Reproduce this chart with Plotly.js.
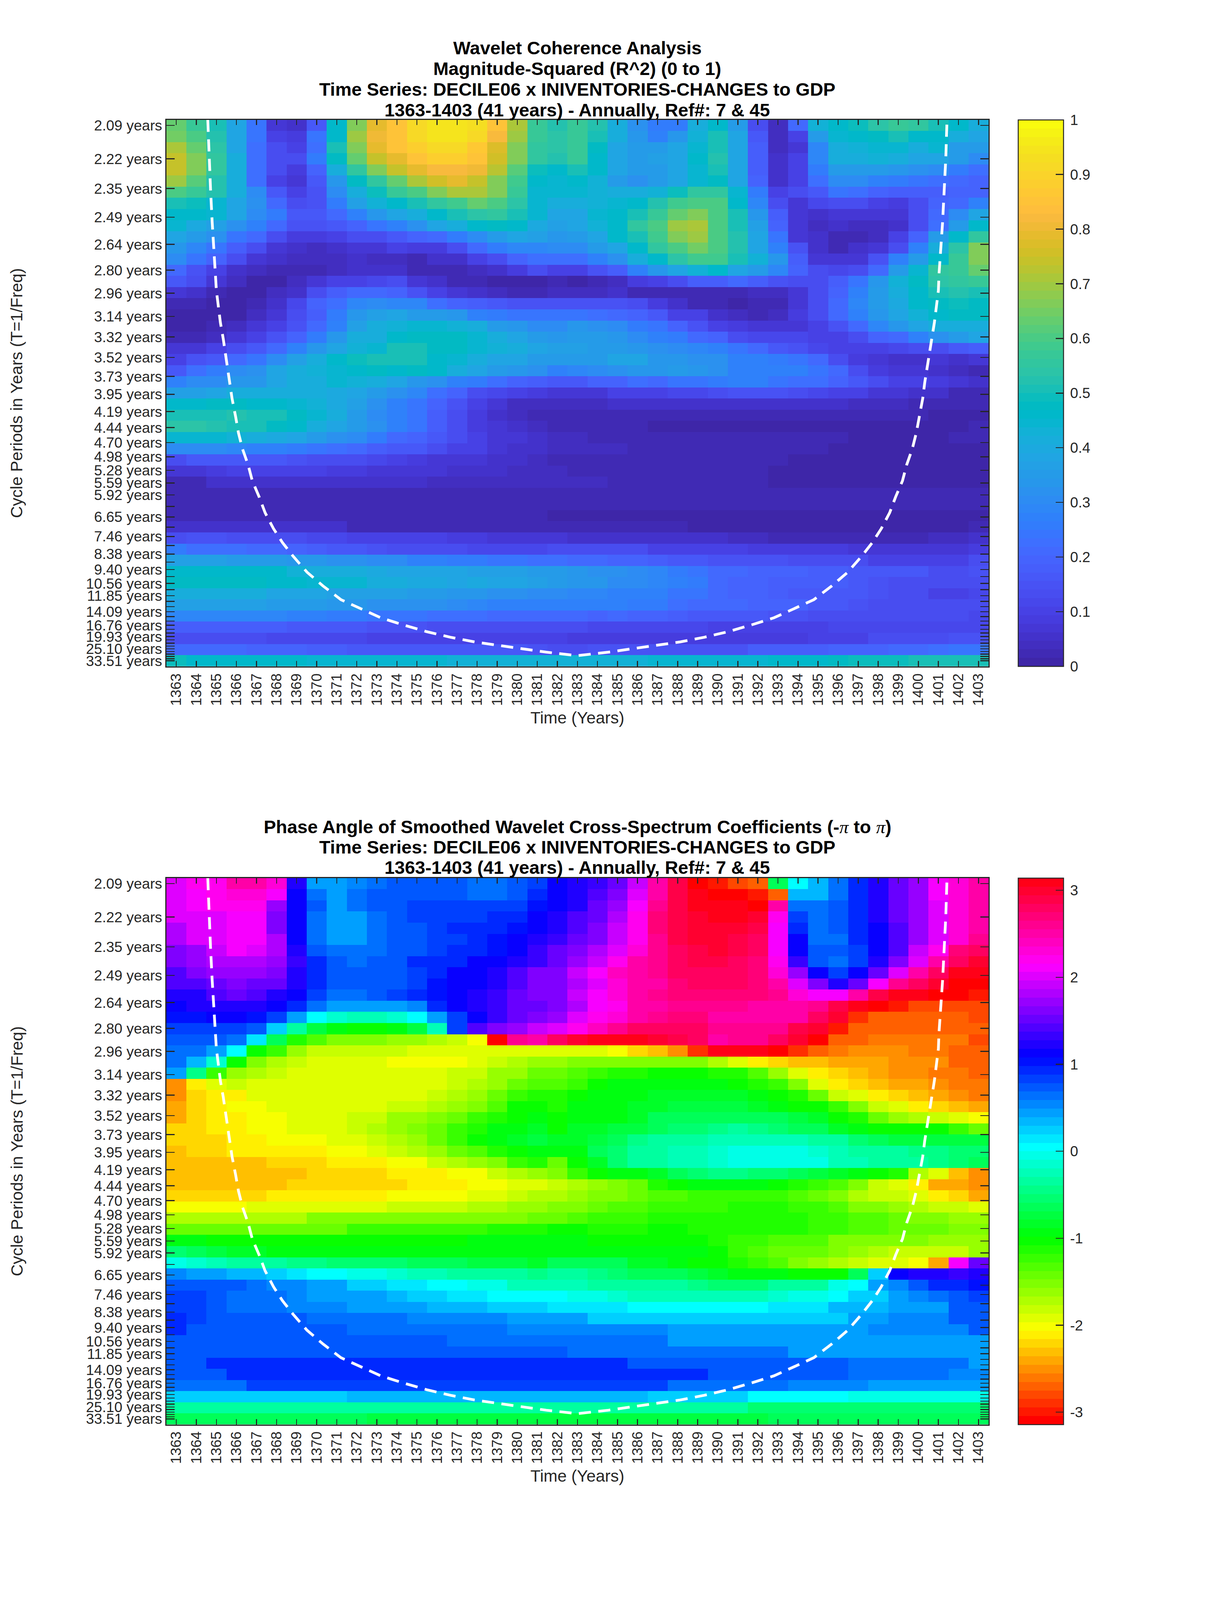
<!DOCTYPE html>
<html><head><meta charset="utf-8">
<script src="https://cdn.plot.ly/plotly-3.0.1.min.js"></script>
<style>html,body{margin:0;padding:0;background:#fff}</style></head>
<body><div id="chart"></div>
<script>
const years=[1363,1364,1365,1366,1367,1368,1369,1370,1371,1372,1373,1374,1375,1376,1377,1378,1379,1380,1381,1382,1383,1384,1385,1386,1387,1388,1389,1390,1391,1392,1393,1394,1395,1396,1397,1398,1399,1400,1401,1402,1403];
const periodTicks=[33.51,31.63,29.85,28.18,26.60,25.10,23.70,22.37,21.11,19.93,18.81,17.76,16.76,15.82,14.93,14.09,13.30,12.55,11.85,11.18,10.56,9.96,9.40,8.88,8.38,7.91,7.46,7.05,6.65,6.28,5.92,5.59,5.28,4.98,4.70,4.44,4.19,3.95,3.73,3.52,3.32,3.14,2.96,2.80,2.64,2.49,2.35,2.22,2.09];
const periodLabelled=[33.51,25.10,19.93,16.76,14.09,11.85,10.56,9.40,8.38,7.46,6.65,5.92,5.59,5.28,4.98,4.70,4.44,4.19,3.95,3.73,3.52,3.32,3.14,2.96,2.80,2.64,2.49,2.35,2.22,2.09];
const title1Lines=["Wavelet Coherence Analysis","Magnitude-Squared (R^2) (0 to 1)","Time Series: DECILE06 x INIVENTORIES-CHANGES to GDP","1363-1403 (41 years) - Annually, Ref#: 7 & 45"];
const title2Lines=["Phase Angle of Smoothed Wavelet Cross-Spectrum Coefficients (-<span style=\"font-family:'Liberation Serif';font-weight:normal\"><i>π</i></span> to <span style=\"font-family:'Liberation Serif';font-weight:normal\"><i>π</i></span>)","Time Series: DECILE06 x INIVENTORIES-CHANGES to GDP","1363-1403 (41 years) - Annually, Ref#: 7 & 45"];
// cone of influence
const coiYear=[1364.57,1364.63,1364.71,1364.79,1364.89,1364.97,1365.0,1365.10,1365.20,1365.34,1365.46,1365.60,1365.68,1365.78,1365.96,1366.10,1366.30,1366.58,1366.79,1367.13,1367.43,1367.85,1368.29,1368.82,1369.52,1370.31,1371.21,1372.20,1373.20,1374.29,1375.48,1376.67,1377.87,1379.06,1380.25,1381.45,1383,1384.55,1385.75,1386.94,1388.13,1389.33,1390.52,1391.71,1392.80,1393.80,1394.79,1395.69,1396.48,1397.18,1397.71,1398.15,1398.57,1398.87,1399.21,1399.42,1399.70,1399.90,1400.04,1400.22,1400.32,1400.40,1400.54,1400.66,1400.80,1400.90,1401.0,1401.03,1401.11,1401.21,1401.29,1401.37,1401.43];
const coiFreq=[.4831,.4510,.4242,.3974,.3706,.3534,.3400,.3266,.3132,.2998,.2864,.2710,.2630,.2497,.2343,.2209,.2075,.1941,.1807,.1673,.1539,.1405,.1290,.1176,.1041,.0927,.0811,.0735,.0659,.0601,.0543,.0496,.0457,.0428,.0400,.0371,.0342,.0371,.0400,.0428,.0457,.0496,.0543,.0601,.0659,.0735,.0811,.0927,.1041,.1176,.1290,.1405,.1539,.1673,.1807,.1941,.2075,.2209,.2343,.2497,.2630,.2710,.2864,.2998,.3132,.3266,.3400,.3534,.3706,.3974,.4242,.4510,.4831];
// R^2 x 100, top row (2.09 years) first
const coherencePct=[
[63,57,50,38,23,7,4,15,45,66,78,85,91,94,94,92,84,70,57,52,56,52,40,32,25,25,40,45,35,12,3,20,42,45,48,53,56,55,50,45,40],
[64,60,52,38,23,10,8,23,46,68,80,85,91,93,93,90,81,68,56,53,56,50,40,33,27,33,42,50,37,15,3,9,34,43,46,47,50,45,46,40,38],
[70,63,53,38,22,13,10,22,50,66,78,85,88,91,91,86,76,65,55,53,56,47,38,35,35,38,44,50,38,17,3,7,28,40,42,43,43,40,43,35,35],
[74,65,54,40,22,13,12,25,47,63,73,78,85,88,88,84,75,65,55,52,56,46,37,34,36,37,45,52,38,17,5,9,28,40,40,42,40,37,38,34,30],
[74,65,55,40,22,12,8,18,40,55,65,73,78,82,82,79,72,61,48,45,50,45,38,35,34,37,44,50,38,17,5,10,25,35,35,35,33,32,30,25,22],
[69,61,52,40,22,10,6,15,33,47,55,63,70,75,78,74,66,58,45,44,46,42,35,32,34,38,44,47,37,19,5,10,22,30,30,27,25,24,22,20,18],
[60,56,51,40,30,15,9,14,30,40,48,56,60,66,70,70,66,56,44,44,44,42,40,40,42,48,54,54,44,25,10,12,16,24,22,18,17,17,17,18,18],
[50,49,44,38,32,20,12,14,25,36,42,46,50,55,58,62,60,53,44,40,40,42,44,45,52,58,60,60,46,28,12,7,11,13,13,10,8,13,18,20,27],
[46,45,43,37,30,25,16,16,20,27,33,38,40,45,50,53,54,50,43,37,38,44,45,50,56,62,66,60,50,33,17,6,5,7,7,6,6,13,20,30,37],
[43,39,36,31,27,20,14,14,15,19,23,27,31,37,40,46,47,45,39,36,38,42,46,54,60,68,70,60,50,36,19,7,3,4,3,3,5,13,22,35,46],
[37,34,32,24,20,12,8,8,9,12,13,15,18,21,25,30,35,38,36,33,35,38,45,50,58,66,68,60,52,38,23,7,4,1,1,3,9,18,35,45,55],
[33,28,24,17,13,6,5,3,4,7,7,9,8,8,12,20,25,28,28,30,30,34,38,45,54,60,64,60,52,38,27,14,4,1,4,7,13,27,40,53,65],
[29,23,18,13,7,5,3,3,3,4,3,3,2,4,5,9,13,19,22,22,22,27,32,40,46,53,58,58,50,42,33,17,7,6,7,14,27,35,46,56,65],
[21,14,9,5,3,1,1,2,3,4,5,4,1,1,2,3,5,8,12,9,10,14,17,26,33,38,42,45,38,35,28,18,12,11,13,20,35,43,55,56,63],
[15,12,6,3,0,0,3,6,9,10,11,12,6,4,1,1,0,0,0,1,0,2,3,8,9,12,17,17,20,17,14,12,12,17,23,33,42,47,53,55,57],
[6,4,2,0,0,3,5,13,17,20,20,18,14,10,6,5,3,2,2,3,3,3,4,2,2,1,1,1,2,3,3,7,12,18,26,34,40,46,50,52,50],
[2,1,0,0,2,4,11,18,22,28,30,28,28,22,18,17,15,14,14,14,14,14,14,12,8,5,2,1,0,1,2,7,13,20,28,34,39,45,47,49,47],
[0,0,0,0,3,6,12,17,25,33,36,38,35,34,33,27,25,24,24,23,24,22,20,19,15,10,9,5,3,2,3,8,13,20,26,33,37,42,45,47,47],
[0,0,1,3,6,10,14,21,27,36,40,42,43,43,42,40,35,33,30,30,33,32,30,25,23,18,14,10,8,6,6,6,10,14,20,28,33,37,40,40,41],
[1,2,3,7,10,14,18,25,33,40,41,46,47,47,47,43,40,38,35,33,35,35,33,30,26,25,20,18,13,11,11,11,9,10,13,18,20,26,32,35,37],
[6,7,10,12,16,21,26,33,38,42,44,50,50,47,47,44,42,40,37,36,36,35,35,33,31,30,28,27,24,20,16,14,11,9,9,10,11,12,13,16,17],
[10,14,15,21,24,30,36,41,45,48,50,50,50,45,43,41,38,37,35,34,35,35,37,37,33,33,32,32,27,26,25,24,20,13,8,6,4,4,6,5,6],
[16,22,25,30,32,38,40,42,44,46,47,46,47,46,40,37,35,33,32,26,28,30,32,33,33,34,33,31,27,27,27,26,24,20,13,8,7,7,5,3,1],
[27,30,30,33,33,37,40,40,43,42,41,37,33,31,27,25,22,18,17,16,16,18,18,22,21,23,24,25,26,26,24,22,22,18,16,13,10,9,8,7,4],
[36,36,37,40,40,41,41,41,39,38,34,32,28,22,19,13,11,9,8,7,7,7,9,9,9,11,11,13,14,14,14,12,11,10,9,7,6,5,5,2,2],
[46,46,47,47,46,45,44,42,39,36,32,27,23,18,14,10,7,3,3,3,3,3,4,4,4,5,5,5,5,5,5,5,5,5,3,3,3,1,1,1,1],
[50,50,50,52,50,50,47,44,40,35,30,26,24,17,13,8,5,3,2,1,1,1,2,1,1,1,1,1,1,1,1,1,1,1,1,1,1,1,0,0,0],
[53,53,52,50,50,47,46,41,38,34,31,27,23,17,12,8,6,5,3,2,2,2,2,2,0,0,0,0,0,0,0,0,0,0,0,0,0,0,0,0,2],
[44,44,43,42,40,39,37,34,31,30,25,21,18,15,13,10,7,7,5,3,3,2,2,2,2,2,1,1,1,1,1,1,1,1,0,0,0,0,0,1,1],
[30,30,29,28,27,26,25,24,22,21,17,16,15,12,10,9,7,5,5,3,3,3,3,2,2,2,2,2,2,1,1,1,1,0,0,0,0,0,0,0,0],
[12,16,15,16,15,15,14,13,13,12,11,9,8,7,6,6,5,5,3,2,2,2,2,2,2,2,2,2,2,1,1,0,0,0,0,0,0,0,0,0,0],
[6,6,8,9,9,9,9,9,8,8,7,7,7,6,5,5,4,3,3,3,2,2,2,2,1,1,1,1,1,1,0,0,0,0,0,0,0,0,0,0,0],
[2,2,5,5,5,5,5,5,5,5,5,5,5,3,3,3,3,3,3,3,3,3,2,2,2,1,1,1,1,1,0,0,0,0,0,0,0,0,0,0,0],
[2,2,2,2,2,2,2,2,2,2,2,2,2,2,2,2,2,1,1,1,1,1,1,1,1,1,1,1,1,1,1,1,1,1,1,1,1,1,1,1,1],
[2,2,2,2,2,2,2,2,2,2,2,2,2,2,2,2,2,2,2,2,1,1,1,1,1,1,1,1,1,1,1,1,1,1,1,1,1,1,1,1,1],
[2,2,2,2,2,2,2,2,2,2,2,2,2,2,2,2,2,2,2,0,0,0,0,0,0,0,0,0,0,0,0,0,0,0,0,0,0,0,0,0,0],
[4,4,5,5,5,5,5,5,5,2,2,2,2,2,2,2,1,1,1,1,1,1,1,1,1,1,0,0,0,0,0,0,0,0,0,0,0,0,0,0,2],
[12,14,14,13,13,13,12,11,11,9,9,9,9,9,8,8,7,7,7,7,5,5,5,5,4,4,4,4,3,3,2,1,1,1,1,1,1,2,3,3,4],
[25,22,22,22,21,21,19,17,16,16,14,13,13,12,12,11,11,11,11,13,12,12,12,12,10,10,10,10,10,8,8,8,8,8,7,7,7,7,7,7,8],
[36,36,36,34,34,34,33,33,31,31,29,29,27,27,25,25,24,23,22,22,21,20,19,18,17,16,15,14,14,14,14,13,13,13,12,10,10,10,10,10,13],
[46,46,46,46,46,45,42,41,41,40,39,38,38,37,37,36,36,36,34,34,33,32,31,29,28,25,23,20,20,18,18,18,17,17,16,16,15,15,13,13,14],
[47,47,47,47,47,45,45,44,44,43,41,40,39,39,38,39,38,38,36,35,33,33,30,29,28,27,25,21,19,18,17,17,17,17,16,14,13,13,13,13,13],
[40,40,40,40,40,38,38,37,36,36,36,36,34,34,33,33,32,31,30,29,28,28,26,27,26,24,23,21,19,18,17,16,16,15,15,14,13,12,10,10,11],
[36,36,36,36,36,35,35,34,33,33,32,32,31,31,29,28,27,27,26,26,26,26,27,25,25,22,21,20,20,19,18,18,16,15,14,13,13,13,12,12,12],
[28,28,28,28,28,28,27,26,25,25,24,24,23,22,22,22,21,21,20,20,20,19,20,19,19,17,16,16,15,15,14,14,13,12,12,12,12,12,12,12,11],
[17,17,17,17,17,17,16,16,15,15,14,14,14,13,13,13,13,13,12,12,12,11,11,11,11,11,11,10,10,10,10,10,10,11,11,11,11,11,11,11,11],
[13,13,13,12,12,11,11,11,11,11,10,10,10,10,10,9,9,9,9,9,8,8,8,8,8,8,8,8,8,8,8,8,9,9,9,12,12,12,12,14,14],
[20,20,20,20,18,18,18,17,17,16,16,15,15,15,15,15,15,15,14,13,13,14,14,14,14,14,14,14,14,17,17,17,17,18,18,18,20,21,22,23,24],
[48,45,45,45,45,45,45,44,44,43,43,43,43,43,42,42,42,42,42,42,42,42,42,42,43,43,44,44,44,44,45,45,46,47,48,48,49,50,50,50,50]
];
// phase angle in degrees, top row (2.09 years) first
const phaseDeg=[
[115,122,125,140,142,130,65,25,25,30,33,38,40,40,42,36,36,42,46,60,70,75,85,105,140,165,180,-172,-165,-158,-40,0,17,35,48,70,85,98,120,130,138],
[110,120,125,130,132,118,60,32,25,32,38,42,42,42,42,35,35,42,48,60,68,78,92,112,140,165,177,-180,-180,-175,-155,15,18,35,48,68,82,97,118,128,138],
[110,118,122,125,125,98,60,40,25,35,40,40,43,43,43,43,43,46,55,63,70,85,98,120,145,165,172,177,177,178,140,32,32,37,50,65,83,97,115,128,138],
[115,115,115,120,120,90,60,32,25,25,32,38,43,43,43,43,48,52,60,68,77,87,100,123,150,165,170,172,172,170,122,45,34,42,52,65,82,97,112,128,138],
[103,110,112,118,118,90,60,32,25,25,32,38,42,46,50,50,52,58,60,70,78,92,107,125,150,165,168,170,167,163,120,50,34,40,52,62,80,97,115,130,142],
[103,110,112,120,120,102,60,32,25,25,32,38,42,46,46,50,56,60,68,74,82,92,108,125,148,162,167,168,165,160,120,60,35,35,48,60,80,96,113,130,145],
[92,98,105,118,110,102,68,40,36,36,36,38,42,46,52,52,58,60,75,82,88,100,113,130,145,160,165,170,165,160,120,60,40,40,46,60,78,105,125,150,160],
[88,93,102,100,102,95,75,48,40,33,40,42,48,50,52,60,60,66,75,82,95,108,122,140,145,155,165,165,160,150,125,72,42,35,46,65,92,115,140,160,170],
[80,90,97,98,98,92,70,52,42,38,38,42,45,50,60,60,68,77,88,92,105,120,135,142,145,155,160,160,160,150,132,95,60,45,60,85,112,138,160,172,177],
[78,78,85,92,85,85,65,52,42,38,38,42,45,55,60,60,65,80,90,90,102,115,128,138,142,150,155,160,160,152,138,115,88,70,85,120,145,160,170,178,178],
[65,70,78,82,78,70,60,45,35,32,40,45,52,58,60,70,75,82,90,92,105,120,132,140,148,150,152,152,152,152,148,132,120,120,142,162,172,175,178,180,-172],
[60,65,68,68,68,60,48,35,20,20,20,20,30,48,60,70,72,82,85,92,103,118,125,138,142,148,148,148,145,142,140,138,148,165,175,-178,-172,-165,-165,-165,-165],
[55,58,60,60,58,45,25,2,-12,-18,-15,-10,0,25,45,60,75,82,88,95,110,123,130,138,145,150,152,140,140,140,140,142,155,168,-170,-160,-160,-160,-160,-160,-165],
[45,45,45,45,38,10,-25,-45,-58,-60,-60,-58,-45,-18,45,78,92,98,105,110,125,135,148,155,155,155,155,148,145,145,145,162,170,-172,-160,-155,-155,-155,-155,-160,-160],
[38,38,38,32,5,-40,-65,-80,-88,-92,-92,-93,-98,-100,-108,-120,-180,145,138,155,168,172,177,177,170,165,155,142,145,148,155,170,180,-160,-155,-150,-150,-150,-152,-154,-162],
[35,35,25,0,-60,-72,-95,-105,-107,-107,-107,-108,-110,-110,-110,-110,-110,-110,-110,-110,-115,-114,-120,-128,-135,-144,-166,175,172,172,178,-168,-158,-150,-145,-144,-144,-150,-150,-156,-156],
[32,15,-10,-60,-90,-102,-108,-110,-110,-112,-115,-117,-118,-118,-118,-112,-105,-100,-98,-95,-88,-88,-88,-88,-88,-88,-92,-102,-112,-125,-132,-134,-135,-140,-140,-140,-144,-146,-148,-155,-155],
[20,-30,-75,-95,-102,-106,-114,-115,-115,-115,-115,-115,-115,-115,-108,-108,-98,-95,-82,-85,-80,-72,-70,-65,-62,-62,-62,-65,-70,-80,-98,-112,-122,-130,-135,-140,-144,-147,-150,-150,-158],
[-147,-122,-112,-108,-114,-114,-114,-114,-114,-115,-115,-115,-115,-114,-105,-102,-95,-85,-78,-80,-72,-62,-58,-58,-58,-55,-55,-58,-60,-65,-75,-92,-110,-122,-128,-136,-140,-143,-146,-150,-150],
[-147,-130,-124,-122,-114,-114,-114,-114,-114,-114,-114,-114,-112,-105,-103,-95,-85,-75,-65,-68,-60,-55,-55,-55,-52,-50,-50,-50,-52,-55,-60,-70,-85,-105,-112,-124,-130,-135,-142,-146,-150],
[-142,-130,-124,-120,-120,-112,-112,-112,-112,-112,-110,-108,-108,-102,-95,-88,-76,-62,-60,-65,-58,-55,-55,-50,-48,-45,-45,-45,-47,-50,-55,-60,-62,-75,-88,-105,-112,-122,-130,-136,-140],
[-138,-130,-124,-124,-120,-120,-112,-112,-112,-108,-108,-98,-95,-88,-85,-75,-65,-60,-58,-62,-55,-55,-55,-50,-40,-38,-38,-38,-38,-38,-40,-45,-50,-60,-70,-85,-95,-100,-108,-112,-120],
[-132,-130,-124,-124,-120,-118,-114,-114,-110,-105,-100,-95,-88,-82,-72,-65,-58,-58,-52,-62,-52,-48,-45,-45,-40,-35,-33,-30,-25,-30,-32,-37,-40,-48,-55,-60,-60,-60,-62,-75,-82],
[-132,-130,-128,-126,-122,-120,-120,-120,-112,-112,-108,-102,-94,-85,-75,-62,-55,-52,-45,-52,-50,-45,-40,-30,-25,-22,-22,-18,-18,-18,-18,-18,-25,-25,-35,-38,-45,-45,-45,-45,-47],
[-135,-130,-128,-126,-126,-126,-124,-124,-117,-117,-110,-108,-100,-95,-85,-78,-70,-62,-55,-55,-55,-40,-35,-25,-22,-18,-15,-10,-8,-8,-8,-8,-10,-18,-20,-22,-25,-30,-30,-32,-32],
[-136,-136,-136,-136,-136,-130,-130,-130,-122,-122,-122,-118,-118,-108,-102,-95,-88,-75,-65,-85,-60,-50,-35,-25,-20,-15,-15,-12,-8,-8,-8,-8,-8,-15,-15,-20,-20,-20,-28,-35,-42],
[-135,-135,-135,-135,-135,-135,-135,-130,-130,-130,-130,-124,-124,-124,-118,-118,-108,-102,-98,-92,-75,-62,-58,-58,-48,-40,-35,-30,-30,-32,-35,-40,-45,-52,-55,-62,-70,-100,-110,-135,-148],
[-135,-135,-135,-135,-135,-135,-130,-130,-130,-130,-130,-130,-126,-126,-126,-120,-120,-112,-110,-108,-104,-95,-88,-82,-70,-62,-55,-55,-55,-55,-60,-68,-75,-80,-92,-106,-112,-125,-140,-142,-148],
[-130,-130,-130,-130,-130,-124,-124,-124,-124,-124,-124,-120,-120,-120,-120,-112,-112,-105,-102,-102,-98,-92,-90,-85,-80,-78,-72,-72,-72,-72,-75,-80,-85,-90,-100,-105,-108,-112,-122,-128,-138],
[-118,-118,-118,-118,-110,-110,-110,-110,-110,-110,-110,-105,-105,-105,-105,-102,-100,-98,-95,-92,-88,-85,-80,-80,-75,-75,-72,-72,-68,-70,-70,-72,-75,-80,-88,-92,-95,-102,-105,-108,-112],
[-100,-100,-100,-100,-100,-100,-100,-92,-92,-92,-92,-92,-92,-88,-88,-88,-88,-88,-85,-85,-80,-75,-75,-72,-68,-66,-66,-66,-66,-66,-66,-66,-72,-72,-80,-80,-83,-88,-90,-95,-95],
[-82,-82,-82,-82,-82,-82,-82,-82,-82,-72,-72,-72,-72,-72,-72,-72,-68,-68,-68,-62,-62,-65,-65,-65,-62,-62,-68,-68,-68,-68,-68,-68,-74,-74,-80,-80,-82,-82,-84,-92,-92],
[-58,-58,-62,-62,-62,-62,-62,-62,-62,-62,-62,-62,-62,-62,-62,-58,-58,-58,-58,-58,-58,-62,-62,-62,-64,-64,-64,-70,-72,-72,-80,-80,-80,-88,-88,-88,-92,-92,-95,-95,-95],
[-35,-40,-45,-48,-48,-55,-55,-55,-55,-55,-55,-55,-55,-55,-55,-55,-55,-55,-55,-58,-58,-58,-58,-55,-55,-55,-58,-62,-72,-76,-85,-87,-87,-92,-95,-102,-107,-105,-105,-105,-98],
[-5,-12,-15,-20,-22,-25,-28,-30,-32,-33,-35,-35,-38,-40,-40,-43,-45,-45,-48,-40,-40,-40,-40,-48,-48,-58,-60,-60,-65,-72,-80,-88,-95,-100,-108,-110,-115,-120,-142,118,85],
[30,25,20,15,15,10,5,2,0,-5,-8,-10,-15,-18,-20,-22,-25,-25,-30,-25,-25,-30,-35,-38,-40,-42,-45,-48,-55,-55,-58,-60,-60,-60,-40,10,63,67,67,75,70],
[42,38,38,38,33,28,28,20,20,12,12,7,7,0,0,-5,-5,-15,-15,-15,-15,-20,-20,-25,-25,-25,-30,-32,-35,-35,-25,-25,-20,-5,2,20,30,42,50,52,58],
[45,45,40,35,35,32,30,25,25,20,20,17,12,12,8,5,0,0,-2,0,-5,-5,-10,-15,-15,-15,-15,-15,-15,-15,-10,-8,-5,0,10,13,23,30,35,42,45],
[45,45,40,35,35,35,30,30,28,23,22,22,22,15,15,15,10,10,10,8,8,8,8,0,0,0,0,0,0,0,5,5,5,15,15,15,25,25,25,37,42],
[48,46,38,38,38,38,38,32,32,32,32,32,27,27,27,27,27,20,20,20,20,12,12,12,12,12,12,12,12,12,12,12,12,12,20,20,27,27,27,37,37],
[50,38,38,38,38,38,38,38,38,33,33,33,33,33,33,33,33,28,28,28,28,28,28,28,28,20,20,20,20,20,20,20,20,20,20,27,27,27,27,27,38],
[40,40,40,40,40,40,40,40,40,40,40,40,40,40,33,33,33,33,33,33,33,33,33,33,33,25,25,25,25,25,25,25,25,25,25,25,25,25,25,25,25],
[40,40,40,40,40,40,40,40,40,40,40,40,40,40,40,40,40,40,40,40,35,35,35,35,35,35,35,35,35,35,35,25,25,25,25,25,25,25,25,25,25],
[40,40,48,48,48,48,48,48,48,48,48,48,48,48,48,48,48,48,48,48,48,48,48,40,40,40,40,40,40,40,40,40,40,40,33,33,33,33,33,33,25],
[42,42,42,49,49,49,49,49,49,49,49,49,49,49,49,49,49,49,49,49,49,49,49,49,49,49,49,42,42,42,42,42,42,42,33,33,33,33,33,27,27],
[32,32,32,32,44,44,44,44,44,44,44,44,44,44,44,44,44,44,44,44,44,44,44,44,44,36,36,36,36,36,36,30,30,30,30,20,20,20,20,20,20],
[12,12,12,12,12,12,12,12,12,18,18,18,18,18,18,15,15,15,15,15,15,15,15,15,10,10,10,10,10,0,0,0,0,0,-8,-8,-8,-8,-8,-8,-8],
[-25,-25,-25,-25,-25,-25,-25,-25,-25,-25,-25,-25,-25,-25,-25,-25,-25,-25,-25,-25,-25,-25,-25,-25,-25,-25,-25,-25,-25,-32,-32,-32,-32,-32,-32,-32,-32,-32,-32,-32,-32],
[-42,-42,-42,-42,-42,-42,-42,-42,-42,-42,-45,-45,-45,-45,-45,-45,-45,-45,-45,-45,-45,-45,-45,-45,-45,-45,-45,-45,-45,-45,-42,-42,-42,-42,-42,-42,-42,-42,-42,-42,-42]
];
// MATLAB parula(64)
const parula64=[[.2422,.1504,.6603],[.2504,.1650,.7076],[.2578,.1818,.7511],[.2647,.1978,.7952],[.2706,.2147,.8364],[.2751,.2342,.8710],[.2783,.2559,.8991],[.2803,.2782,.9221],[.2813,.3006,.9414],[.2810,.3228,.9579],[.2795,.3447,.9717],[.2760,.3667,.9829],[.2699,.3892,.9906],[.2602,.4123,.9952],[.2440,.4358,.9988],[.2206,.4603,.9973],[.1963,.4847,.9892],[.1834,.5074,.9798],[.1786,.5289,.9682],[.1764,.5499,.9520],[.1687,.5703,.9359],[.1540,.5902,.9218],[.1460,.6091,.9079],[.1380,.6276,.8973],[.1248,.6459,.8883],[.1113,.6635,.8763],[.0952,.6798,.8598],[.0689,.6948,.8394],[.0297,.7082,.8163],[.0036,.7203,.7917],[.0067,.7312,.7660],[.0433,.7411,.7394],[.0964,.7500,.7120],[.1408,.7584,.6842],[.1717,.7670,.6554],[.1938,.7758,.6251],[.2161,.7843,.5923],[.2470,.7918,.5567],[.2906,.7973,.5188],[.3406,.8008,.4789],[.3909,.8029,.4354],[.4456,.8024,.3909],[.5044,.7993,.3480],[.5616,.7942,.3045],[.6174,.7876,.2612],[.6720,.7793,.2227],[.7242,.7698,.1910],[.7738,.7598,.1646],[.8203,.7498,.1535],[.8634,.7406,.1596],[.9035,.7330,.1774],[.9393,.7288,.2100],[.9728,.7298,.2394],[.9956,.7434,.2371],[.9970,.7659,.2199],[.9952,.7861,.1999],[.9892,.8073,.1802],[.9786,.8292,.1630],[.9676,.8515,.1479],[.9626,.8705,.1309],[.9589,.8949,.1132],[.9598,.9218,.0948],[.9661,.9514,.0755],[.9763,.9831,.0538]];
const rgb=c=>`rgb(${Math.round(c[0]*255)},${Math.round(c[1]*255)},${Math.round(c[2]*255)})`;
function steps(cols){const s=[];cols.forEach((c,i)=>{s.push([i/cols.length,c]);s.push([(i+1)/cols.length,c]);});return s;}
const hsv64=[];
for(let i=0;i<64;i++){const h=i/64*6,b=Math.floor(h),f=h-b;const t=[[1,f,0],[1-f,1,0],[0,1,f],[0,1-f,1],[f,0,1],[1,0,1-f]][b];hsv64.push(rgb(t));}
// The design is 3125x6252. The sandbox window measured 3125x4096, which would cut off the lower
// chart, so the figure takes the height of the window when that is shorter: every mark keeps its
// fractional position, and heights and fonts scale with k. In a 6252-tall window k is 1.
const W=3125,REF_H=6252;
const H=Math.min(REF_H,window.innerHeight||REF_H);
const k=H/REF_H;
document.getElementById('chart').style.cssText=`width:${W}px;height:${H}px`;
const ink='#262626';
const axL=425.5,axR=2530;
const top1=468,bot1=2604,top2=3431,bot2=5566;
const font=(s,c)=>({family:'"Liberation Sans",Arial,sans-serif',size:s,color:c||ink});
const tickF=57*k,axisF=65*k,titleF=64*Math.min(1,k*1.12);
const lblGap=Math.max(18,24*k);
// uniform frequency rows from the first to the last labelled period
const fTop=1/2.09,fBot=1/33.51,dF=(fTop-fBot)/48;
const rowFreq=coherencePct.map((_,i)=>fTop-dF*i);
const labelSet=new Set(periodLabelled);
const ytickvals=periodTicks.map(p=>1/p);
const yticktext=periodTicks.map(p=>labelSet.has(p)?p.toFixed(2)+' years':'');
const xax=(anch)=>({domain:[axL/W,axR/W],range:[1362.5,1403.5],anchor:anch,tickmode:'array',tickvals:years,ticktext:years.map(String),tickangle:-90,ticks:'inside',ticklen:21*k,tickwidth:2.5,tickcolor:ink,showline:true,linecolor:ink,linewidth:3,mirror:'ticks',showgrid:false,zeroline:false,tickfont:font(tickF),ticklabelstandoff:Math.round(lblGap-18),title:{text:'Time (Years)',font:font(axisF),standoff:201*k-lblGap-2.224*tickF-.32*axisF},automargin:false});
const yax=(t,b,anch)=>({domain:[1-b/REF_H,1-t/REF_H],range:[fBot-dF/2,fTop+dF/2],anchor:anch,tickmode:'array',tickvals:ytickvals,ticktext:yticktext,ticks:'inside',ticklen:21,tickwidth:2.5,tickcolor:ink,showline:true,linecolor:ink,linewidth:3,mirror:'ticks',showgrid:false,zeroline:false,tickfont:font(tickF),title:{text:'Cycle Periods in Years (T=1/Freq)',font:font(axisF),standoff:401-4.67*tickF-46-axisF+32*(1-k)},automargin:false});
const cbar=(t,b,vals)=>({x:2606/W,xanchor:'left',xpad:0,ypad:0,y:1-(t+b)/2/REF_H,yanchor:'middle',len:(b-t)/REF_H,lenmode:'fraction',thickness:116,thicknessmode:'pixels',outlinecolor:ink,outlinewidth:2.5,ticks:'inside',ticklen:21,tickwidth:2.5,tickcolor:ink,tickmode:'array',tickvals:vals,ticktext:vals.map(v=>'\u2009'+v),tickfont:font(tickF)});
const dashK=Math.sqrt(k);
const coi=(xa,ya)=>({type:'scatter',mode:'lines',x:coiYear,y:coiFreq,xaxis:xa,yaxis:ya,line:{color:'#fff',width:7,dash:Math.round(38*dashK)+'px,'+Math.round(24*dashK)+'px'},hoverinfo:'skip',showlegend:false});
// the readings are of the colours shown, so each is moved to the middle of its 64-level band
const halfBandPct=100/64/2,halfBandDeg=360/64/2;
const wrapDeg=a=>a>180?a-360:a;
const data=[
{type:'heatmap',x:years,y:rowFreq,z:coherencePct.map(r=>r.map(v=>(v+halfBandPct)/100)),zmin:0,zmax:1,colorscale:steps(parula64.map(rgb)),xaxis:'x',yaxis:'y',colorbar:cbar(top1,bot1,[0,.1,.2,.3,.4,.5,.6,.7,.8,.9,1])},
coi('x','y'),
{type:'heatmap',x:years,y:rowFreq,z:phaseDeg.map(r=>r.map(v=>wrapDeg(v+halfBandDeg)*Math.PI/180)),zmin:-Math.PI,zmax:Math.PI,colorscale:steps(hsv64),xaxis:'x2',yaxis:'y2',colorbar:cbar(top2,bot2,[-3,-2,-1,0,1,2,3])},
coi('x2','y2')
];
const mid=(axL+axR)/2;
const tl=(txt,y)=>({text:'<b>'+txt+'</b>',xref:'paper',yref:'paper',x:mid/W,y:1-y/REF_H,xanchor:'center',yanchor:'middle',showarrow:false,font:font(titleF,'#000')});
const annotations=[];
title1Lines.forEach((t,i)=>annotations.push(tl(t,[187,268,349,430][i])));
title2Lines.forEach((t,i)=>annotations.push(tl(t,[3230,3310,3390][i])));
const layout={width:W,height:H,margin:{l:0,r:0,t:0,b:0},paper_bgcolor:'#fff',plot_bgcolor:'#fff',showlegend:false,
xaxis:xax('y'),yaxis:yax(top1,bot1,'x'),xaxis2:xax('y2'),yaxis2:yax(top2,bot2,'x2'),annotations};
Plotly.newPlot('chart',data,layout,{staticPlot:true,displayModeBar:false});
</script></body></html>
